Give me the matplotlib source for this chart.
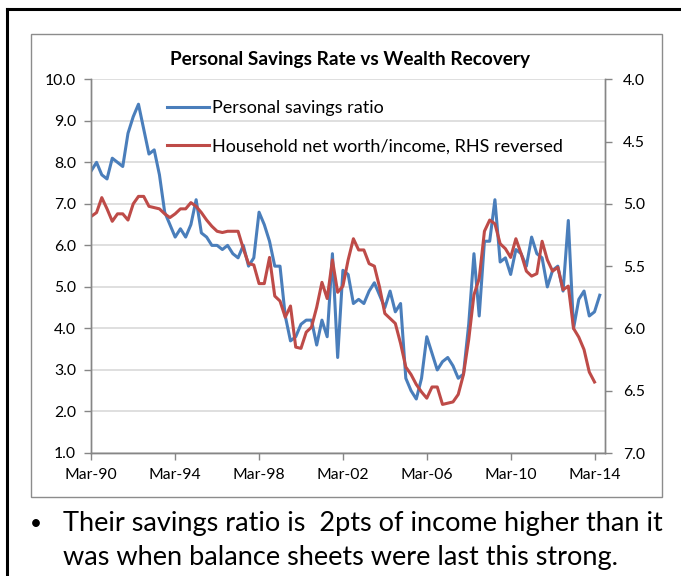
import matplotlib
matplotlib.use("Agg")
import matplotlib.pyplot as plt
from matplotlib.lines import Line2D
from matplotlib.patches import Rectangle
import numpy as np

plt.rcParams["font.family"] = ["Lato", "DejaVu Sans"]

# quarterly observations, Mar-90 .. Jun-14
savings_ratio = [
    7.8, 8.0, 7.7, 7.6, 8.1, 8.0, 7.9, 8.7, 9.1, 9.4, 8.8, 8.2, 8.3, 7.7, 6.8, 6.5,
    6.2, 6.4, 6.2, 6.5, 7.1, 6.3, 6.2, 6.0, 6.0, 5.9, 6.0, 5.8, 5.7, 6.0, 5.5, 5.7,
    6.8, 6.5, 6.1, 5.5, 5.5, 4.3, 3.7, 3.8, 4.1, 4.2, 4.2, 3.6, 4.2, 3.8, 5.8, 3.3,
    5.4, 5.3, 4.6, 4.7, 4.6, 4.9, 5.1, 4.8, 4.5, 4.9, 4.4, 4.6, 2.8, 2.5, 2.3, 2.8,
    3.8, 3.4, 3.0, 3.2, 3.3, 3.1, 2.8, 2.9, 4.1, 5.8, 4.3, 6.1, 6.1, 7.1, 5.6, 5.7,
    5.3, 5.9, 5.8, 5.5, 6.2, 5.8, 5.7, 5.0, 5.4, 5.5, 4.9, 6.6, 4.0, 4.7, 4.9, 4.3,
    4.4, 4.8,
]

# household net worth / income, Mar-90 .. Mar-14
net_worth_income = [
    5.10, 5.07, 4.95, 5.04, 5.14, 5.08, 5.08, 5.13, 5.00, 4.94, 4.94, 5.02, 5.03, 5.04, 5.08, 5.11,
    5.08, 5.04, 5.04, 4.99, 5.02, 5.07, 5.13, 5.18, 5.22, 5.23, 5.22, 5.22, 5.22, 5.36, 5.48, 5.49,
    5.64, 5.64, 5.43, 5.74, 5.78, 5.91, 5.82, 6.15, 6.16, 6.03, 5.99, 5.83, 5.63, 5.76, 5.45, 5.71,
    5.66, 5.45, 5.28, 5.37, 5.37, 5.48, 5.50, 5.67, 5.88, 5.92, 5.96, 6.12, 6.31, 6.37, 6.45, 6.51,
    6.56, 6.47, 6.47, 6.61, 6.60, 6.59, 6.53, 6.37, 6.09, 5.73, 5.60, 5.22, 5.13, 5.16, 5.32, 5.36,
    5.43, 5.28, 5.40, 5.54, 5.58, 5.56, 5.30, 5.45, 5.54, 5.51, 5.69, 5.66, 6.00, 6.07, 6.17, 6.35,
    6.43,
]

tick_labels = ["Mar-90", "Mar-94", "Mar-98", "Mar-02", "Mar-06", "Mar-10", "Mar-14"]

blue = "#4A7EBB"
red = "#BE4B48"
axis_grey = "#868686"
grid_grey = "#D9D9D9"

fig = plt.figure(figsize=(6.81, 5.76), dpi=100)
ax = fig.add_axes([91.3 / 681, 1 - 453 / 576, (605 - 91.3) / 681, (453 - 79.3) / 576])
ax2 = ax.twinx()

q_blue = np.arange(len(savings_ratio))
q_red = np.arange(len(net_worth_income))

ax.plot(q_blue, savings_ratio, color=blue, lw=2.2, solid_joinstyle="round")
ax2.plot(q_red, net_worth_income, color=red, lw=2.2, solid_joinstyle="round")

ax.set_xlim(0, 98)
ax.set_ylim(1, 10)
ax2.set_ylim(7, 4)

ax.set_yticks(np.arange(1, 10.5, 1))
ax.set_yticklabels([f"{v:.1f}" for v in np.arange(1, 10.5, 1)])
ax2.set_yticks(np.arange(4, 7.01, 0.5))
ax2.set_yticklabels([f"{v:.1f}" for v in np.arange(4, 7.01, 0.5)])
ax.set_xticks(np.arange(0, 97, 16))
ax.set_xticklabels(tick_labels)

ax.yaxis.grid(True, color=grid_grey, lw=1.2)
ax.set_axisbelow(True)

for a in (ax, ax2):
    a.spines["top"].set_visible(False)
    for side in ("left", "right", "bottom"):
        a.spines[side].set_color(axis_grey)
        a.spines[side].set_linewidth(1.0)
    a.tick_params(colors=axis_grey, labelcolor="black", labelsize=11.3,
                  length=5, width=1.0, direction="out")
ax.tick_params(axis="y", pad=6)
ax.tick_params(axis="x", pad=6)
ax2.tick_params(axis="y", pad=8)

handles = [Line2D([], [], color=blue, lw=2.2), Line2D([], [], color=red, lw=2.2)]
ax2.legend(handles, ["Personal savings ratio", "Household net worth/income, RHS reversed"],
           loc="upper left", bbox_to_anchor=(0.148, 0.945), frameon=False,
           fontsize=13, handlelength=2.3, handletextpad=0.2, labelspacing=1.25,
           borderaxespad=0, borderpad=0)

fig.text(350 / 681, 1 - 60 / 576, "Personal Savings Rate vs Wealth Recovery",
         ha="center", va="center", fontsize=13.7, fontweight="bold")

# chart frame and slide border
fig.patches.append(Rectangle((31 / 681, 1 - 497 / 576), (662 - 31) / 681, (497 - 34) / 576,
                             transform=fig.transFigure, fill=False,
                             edgecolor="#8C8C8C", lw=1.0))
fig.lines.append(Line2D([7 / 681, 7 / 681], [0, 1 - 9 / 576], transform=fig.transFigure,
                        color="black", lw=2.2))
fig.lines.append(Line2D([7 / 681, 1], [1 - 9 / 576, 1 - 9 / 576], transform=fig.transFigure,
                        color="black", lw=2.2))

fig.text(30 / 681, 1 - 524 / 576, "•", ha="left", va="center", fontsize=15)
fig.text(63 / 681, 1 - 523 / 576, "Their savings ratio is  2pts of income higher than it",
         ha="left", va="center", fontsize=19.5)
fig.text(63 / 681, 1 - 557 / 576, "was when balance sheets were last this strong.",
         ha="left", va="center", fontsize=19.5)

fig.savefig("out.png", dpi=100)
